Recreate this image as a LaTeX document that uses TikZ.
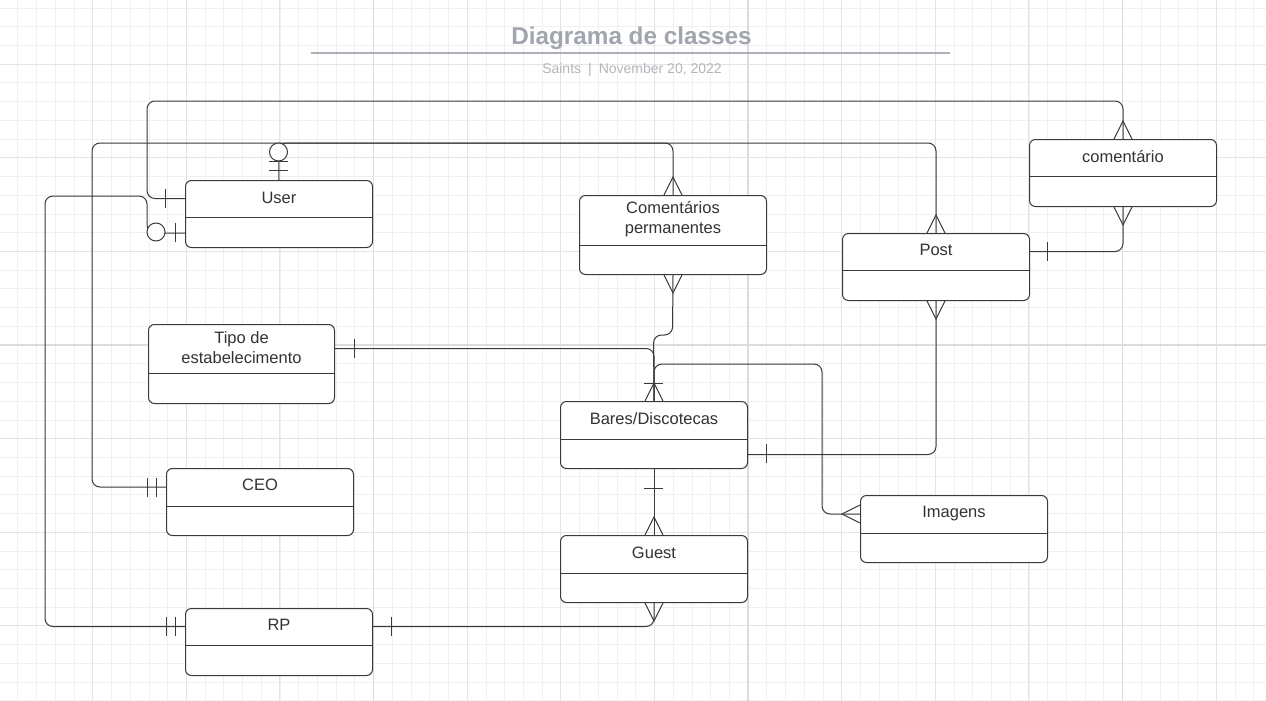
\documentclass[tikz,border=0pt]{standalone}
\usepackage{fontspec}
\setmainfont{Liberation Sans}
\usetikzlibrary{positioning}
\definecolor{linec}{HTML}{3A3A3A}
\definecolor{textc}{HTML}{333333}
\definecolor{titlec}{HTML}{A1A5AD}
\definecolor{rulec}{HTML}{ADB1B7}
\definecolor{subc}{HTML}{B2B5BA}
\definecolor{gridminor}{HTML}{F0F0F0}
\definecolor{gridmid}{HTML}{E4E4E4}
\definecolor{gridmajor}{HTML}{DCDCDC}
\tikzset{
  entity/.style={draw=linec, fill=white, rounded corners=6pt, anchor=north west,
    minimum width=187pt, minimum height=67pt, inner sep=0pt},
  head/.style={font=\fontsize{16.5}{20}\selectfont, text=textc, align=center, anchor=center},
  conn/.style={draw=linec, rounded corners=8pt},
  many/.pic={\draw[linec] (-9,0) -- (0,-18) -- (9,0);},
  one/.pic={\draw[linec] (-9.5,0) -- (9.5,0);},
  zero/.pic={\draw[linec, fill=white] (0,0) circle (9pt);}
}

\begin{document}
\begin{tikzpicture}[x=1pt, y=-1pt, line width=1pt]
    \useasboundingbox[fill=white] (0,0) rectangle (1266,701);
    % grid
    \foreach \i in {0,...,68}
        \draw[gridminor, line width=0.8pt] ({-0.9+18.725*\i},0) -- ({-0.9+18.725*\i},701);
    \foreach \i in {0,...,37}
        \draw[gridminor, line width=0.8pt] (0,{7.95+18.725*\i}) -- (1266,{7.95+18.725*\i});
    \foreach \i in {-3,...,9}
        \draw[gridmid, line width=0.8pt] ({373.5+93.625*\i},0) -- ({373.5+93.625*\i},701);
    \foreach \i in {-3,...,3}
        \draw[gridmid, line width=0.8pt] (0,{345+93.625*\i}) -- (1266,{345+93.625*\i});
    \foreach \x in {373.5,748,1122.5}
        \draw[gridmajor, line width=1.5pt] (\x,0) -- (\x,701);
    \draw[gridmajor, line width=1.5pt] (0,345) -- (1266,345);

    % title
    \node[font=\bfseries\fontsize{24.3}{28}\selectfont, text=titlec] (ttl) at (631.5,38.5) {Diagrama de classes};
    \draw[rulec, line width=2pt] (311,53) -- (950,53);
    \node[font=\fontsize{14}{16}\selectfont, text=subc] (sub) at (632,69.5) {Saints\hspace{7pt}|\hspace{7pt}November 20, 2022};

    % entities
    \node[entity, label={[head, yshift=-17.5pt]north:User}] (user) at (185,180) {};
    \node[entity, minimum height=79pt, label={[head, yshift=-24.5pt]north:Comentários\\permanentes}] (cp) at (579,195) {};
    \node[entity, label={[head, yshift=-17.5pt]north:comentário}] (coment) at (1029,139) {};
    \node[entity, label={[head, yshift=-17pt]north:Post}] (post) at (842,233) {};
    \node[entity, minimum width=186pt, minimum height=79pt, label={[head, yshift=-24pt]north:Tipo de\\estabelecimento}] (tipo) at (148,324) {};
    \node[entity, label={[head, yshift=-18pt]north:Bares/Discotecas}] (bares) at (560,401) {};
    \node[entity, label={[head, yshift=-17pt]north:CEO}] (ceo) at (166,468) {};
    \node[entity, label={[head, yshift=-18.5pt]north:Imagens}] (img) at (860,495) {};
    \node[entity, label={[head, yshift=-18pt]north:Guest}] (guest) at (560,535) {};
    \node[entity, label={[head, yshift=-17pt]north:RP}] (rp) at (185,608) {};
    \foreach \n/\h in {user/37, cp/50, coment/37, post/37, tipo/49, bares/38, ceo/38, img/38, guest/38, rp/37}
        \draw[linec] ([yshift=-\h pt]\n.north west) -- ([yshift=-\h pt]\n.north east);

    % connectors
    \draw[conn] (user.north) -- (278.5,143) -| (cp.north);
    \draw[conn] (278.5,143) -| (post.north);
    \draw[conn] (278.5,143) -- (92,143) |- ([yshift=-19pt]ceo.north west);
    \draw[conn] ([yshift=-18.5pt]user.north west) -| (147,101) -| (coment.north);
    \draw[conn] ([yshift=15pt]user.south west) -| (147,196) -- (45,196) |- ([yshift=-18.5pt]rp.north west);
    \draw[conn] ([yshift=-24.5pt]tipo.north east) -| (bares.north);
    \draw[conn] (cp.south) -- (672.5,335) -- (653.5,335) -- (bares.north);
    \draw[conn] (bares.north) |- (822,364) |- ([yshift=-19pt]img.north west);
    \draw[conn] (post.south) |- ([yshift=14.5pt]bares.south east);
    \draw[conn] ([yshift=-18.5pt]post.north east) -| (coment.south);
    \draw[conn] (bares.south) -- (guest.north);
    \draw[conn] (guest.south) |- ([yshift=-18.5pt]rp.north east);

    % ends
    \pic at (278.5,152) {zero};
    \pic at (278.5,161) {one};
    \pic at (278.5,170) {one};
    \pic at (cp.north) {many};
    \pic at (post.north) {many};
    \pic at (coment.north) {many};
    \pic[rotate=90] at (147,487) {one};
    \pic[rotate=90] at (156,487) {one};
    \pic[rotate=90] at (165.5,198.5) {one};
    \pic[rotate=90] at (175,232) {one};
    \pic at (156,232) {zero};
    \pic[rotate=90] at (166,626.5) {one};
    \pic[rotate=90] at (175,626.5) {one};
    \pic[rotate=90] at (354,348.5) {one};
    \pic at (bares.north) {many};
    \pic at (653.5,383) {one};
    \pic[rotate=180] at (cp.south) {many};
    \pic[rotate=90] at ([yshift=-19pt]img.north west) {many};
    \pic[rotate=180] at (post.south) {many};
    \pic[rotate=90] at (766,453.5) {one};
    \pic[rotate=90] at (1047,251.5) {one};
    \pic[rotate=180] at (coment.south) {many};
    \pic at (653.5,488) {one};
    \pic at (guest.north) {many};
    \pic[rotate=180] at (guest.south) {many};
    \pic[rotate=90] at (391,626.5) {one};
\end{tikzpicture}
\end{document}
